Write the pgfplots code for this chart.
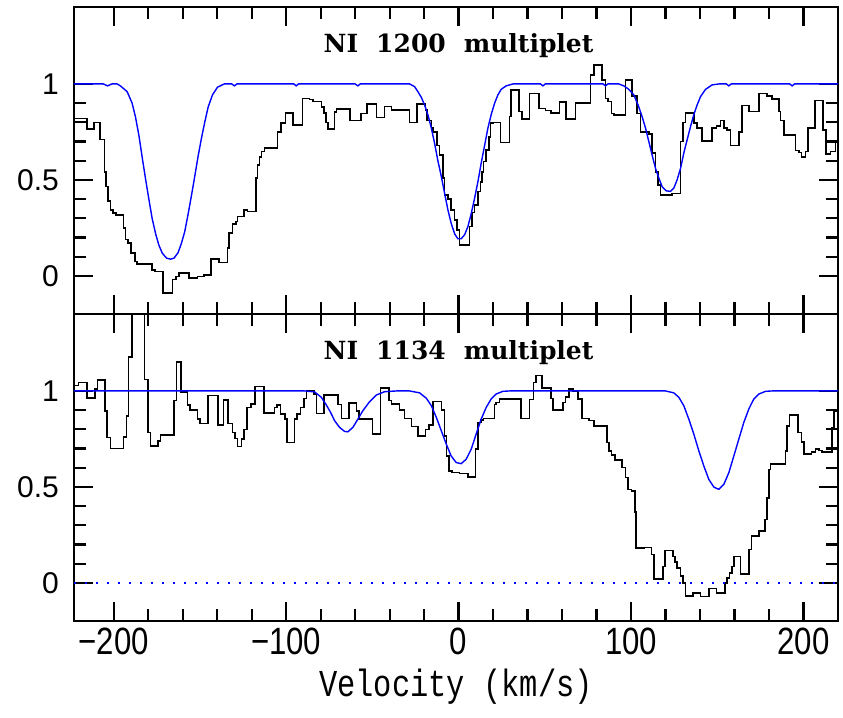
\documentclass[border=0pt]{standalone}
\usepackage{fontspec}
\usepackage{pgfplots}
\pgfplotsset{compat=1.18}
\setmainfont{Liberation Sans}
\newfontfamily\xtickfont[FakeStretch=0.82]{Liberation Sans}
\newfontfamily\ytickfont{Liberation Sans}
\newfontfamily\labfont[FakeStretch=0.8]{Liberation Mono}
\newfontfamily\titfont{DejaVu Serif}

\pgfplotsset{panel/.style={
  scale only axis, width=382pt, height=153.5pt,
  xmin=-223, xmax=220, ymin=-0.2, ymax=1.4,
  xtick={-200,-100,0,100,200}, minor x tick num=4,
  ytick={0,0.5,1}, yticklabels={0,0.5,1}, minor y tick num=4,
  tick align=inside, xtick pos=both, ytick pos=both,
  yticklabel pos=left,
  major tick length=9.5pt, minor tick length=6pt,
  tick style={black, line width=1.1pt},
  axis line style={line width=1.3pt},
  yticklabel style={font=\fontsize{15}{15}\selectfont\ytickfont, xshift=-4pt},
  xticklabel style={font=\fontsize{19}{19}\selectfont\xtickfont},
  xlabel style={font=\fontsize{19}{19}\selectfont\labfont},
}}

\begin{document}
\begin{tikzpicture}
\path[use as bounding box] (-37pt,3.6pt) rectangle (384.5pt,-355pt);

\begin{axis}[panel, name=top, at={(0,0)}, anchor=north west, xticklabels={}]
\addplot[black, line width=0.8pt, const plot] coordinates {
(-223.3,0.82) (-215.5,0.764) (-211.3,0.80) (-207.8,0.71) (-205.4,0.54) (-204.5,0.465)
(-203.2,0.39) (-201.8,0.344) (-200.5,0.326) (-198.5,0.318) (-194.2,0.248) (-193.2,0.19)
(-191.8,0.17) (-189.8,0.118) (-187.8,0.075) (-186.3,0.0625) (-177.7,0.031) (-176.2,0.022)
(-171.3,-0.09) (-166.0,-0.02) (-164.0,-0.003) (-162.1,0.014) (-156.3,-0.012) (-151.5,-0.003)
(-147.6,0.005) (-143.7,0.089) (-138.8,0.069) (-134.0,0.144) (-133.0,0.222) (-131.1,0.27)
(-129.1,0.283) (-128.2,0.309) (-124.3,0.344) (-122.3,0.335) (-117.5,0.509) (-116.5,0.578)
(-115.5,0.62) (-114.3,0.648) (-112.5,0.665) (-104.9,0.75) (-102.9,0.795) (-100.4,0.85)
(-96.1,0.786) (-90.6,0.925) (-86.4,0.918) (-84.5,0.908) (-79.6,0.88) (-78.2,0.85)
(-76.8,0.80) (-75.7,0.764) (-71.9,0.855) (-70.9,0.868) (-63.0,0.81) (-56.5,0.847)
(-53.1,0.894) (-47.7,0.825) (-42.9,0.882) (-39.0,0.865) (-28.4,0.80) (-24.2,0.894)
(-19.1,0.865) (-18.2,0.81) (-15.8,0.77) (-14.9,0.75) (-12.6,0.68) (-11.0,0.63)
(-9.1,0.51) (-8.1,0.42) (-6.2,0.40) (-4.3,0.344) (-2.3,0.29) (-1.0,0.24) (0.6,0.161)
(6.4,0.257) (7.9,0.33) (9.3,0.37) (11.2,0.44) (12.6,0.49) (13.7,0.54) (14.5,0.595)
(16.0,0.656) (17.6,0.725) (18.4,0.795) (19.9,0.80) (24.2,0.694) (29.6,0.83) (30.5,0.969)
(35.0,0.856) (36.9,0.816) (41.2,0.95) (46.6,0.873) (50.4,0.861) (53.7,0.85) (58.6,0.905)
(62.4,0.816) (67.8,0.90) (76.5,1.047) (78.4,1.10) (83.3,1.02) (85.2,0.925) (86.7,0.908)
(88.7,0.847) (90.0,0.838) (96.8,1.02) (100.7,0.9375) (103.6,0.847) (105.5,0.75)
(110.3,0.74) (112.2,0.64) (114.2,0.54) (115.7,0.474) (117.1,0.42) (123.8,0.43)
(128.7,0.70) (130.0,0.80) (131.6,0.85) (136.4,0.795) (138.3,0.77) (141.2,0.703)
(147.0,0.77) (149.5,0.78) (151.9,0.81) (153.8,0.77) (155.7,0.76) (157.7,0.68)
(162.5,0.75) (164.4,0.887) (168.3,0.856) (174.1,0.95) (178.9,0.9375) (181.8,0.92)
(185.7,0.856) (186.6,0.81) (188.6,0.734) (195.3,0.653) (197.3,0.643) (198.8,0.62)
(201.1,0.648) (202.7,0.77) (206.5,0.913) (211.2,0.76) (213.1,0.635) (215.6,0.648)
(218.5,0.70) (220.5,0.70)
};
\addplot[blue, line width=0.7pt] coordinates {
(-223,1.0) (-206,1.0) (-203.5,0.99) (-201,1.0) (-198,1.0) (-196.1,0.99) (-192.2,0.96)
(-189.3,0.90) (-187.4,0.83) (-185.4,0.734) (-183.5,0.62) (-181.6,0.51) (-179.6,0.40)
(-177.7,0.30) (-175.7,0.22) (-173.8,0.16) (-171.8,0.118) (-169.3,0.092) (-167,0.087)
(-165,0.092) (-162.7,0.12) (-160.8,0.167) (-158.8,0.23) (-156.9,0.318) (-155,0.413)
(-153,0.517) (-151.1,0.62) (-149.1,0.717) (-147.2,0.80) (-145.2,0.88) (-142.7,0.943)
(-139.8,0.983) (-135.9,1.0) (-131.5,1.0) (-130,0.99) (-128.5,1.0) (-95.5,1.0) (-94.2,0.99)
(-92.8,1.0) (-60,1.0) (-58.4,0.99) (-57,1.0) (-28.4,1.0) (-25.5,0.986) (-23.6,0.96)
(-21.6,0.93) (-19.7,0.89) (-17.8,0.84) (-15.8,0.77) (-13.9,0.69) (-12,0.60) (-10,0.517)
(-8.1,0.43) (-6.2,0.344) (-4.3,0.274) (-2.3,0.219) (-0.4,0.193) (1.5,0.193) (3.5,0.214)
(5.4,0.257) (7.3,0.323) (9.3,0.405) (11.2,0.49) (13.1,0.587) (15.1,0.68) (17,0.77)
(18.9,0.84) (20.9,0.90) (22.8,0.943) (24.7,0.972) (27.6,0.99) (31.5,1.0) (47.5,1.0)
(48.9,0.99) (50.3,1.0) (83.8,1.0) (85.2,0.99) (86.6,1.0) (92.9,1.0) (95.8,0.99)
(98.7,0.972) (101.6,0.943) (104.1,0.89) (106.4,0.83) (108.4,0.77) (110.3,0.70)
(112.2,0.63) (114.2,0.56) (116.1,0.51) (118,0.465) (120.4,0.443) (122.9,0.44)
(124.8,0.457) (126.7,0.50) (128.7,0.56) (130.6,0.64) (132.5,0.708) (134.5,0.778)
(136.4,0.84) (138.3,0.89) (140.3,0.934) (143.2,0.972) (147,0.995) (150.9,1.0)
(155.3,1.0) (156.7,0.99) (158.1,1.0) (192,1.0) (193.4,0.99) (194.8,1.0) (220,1.0)
};
\node[font=\fontsize{12.5}{12.5}\selectfont\titfont\bfseries] at (axis cs:0,1.2)
  {NI\hspace{9pt}1200\hspace{9pt}multiplet};
\end{axis}

\begin{axis}[panel, name=bot, at={(top.south west)}, anchor=north west,
  xticklabels={−200,−100,0,100,200}, xlabel={Velocity (km/s)}]
\addplot[black, line width=0.8pt, const plot] coordinates {
(-223.3,1.028) (-220.4,1.045) (-215.5,0.962) (-210.7,1.01) (-209.3,1.058) (-204.9,0.897)
(-203.9,0.757) (-201.9,0.70) (-194.2,0.76) (-192.6,0.87) (-191.3,1.178) (-189.3,1.8)
(-182.1,1.06) (-180.2,0.784) (-178.6,0.714) (-174.4,0.74) (-172.8,0.77) (-165.0,0.95)
(-163.5,1.15) (-160.8,0.993) (-157.3,0.927) (-155.7,0.90) (-151.5,0.853) (-149.9,0.83)
(-145.2,0.976) (-139.4,0.822) (-136.3,0.953) (-133.6,0.83) (-131.1,0.784) (-129.5,0.752)
(-128.2,0.71) (-125.8,0.749) (-124.3,0.80) (-122.7,0.914) (-120.4,0.932) (-118.1,1.024)
(-113.0,0.885) (-106.8,0.914) (-105.2,0.927) (-103.3,0.88) (-100.6,0.853) (-99.4,0.731)
(-95.1,0.853) (-93.6,0.88) (-91.7,0.914) (-89.7,0.96) (-88.3,1.0) (-83.9,0.983)
(-82.5,0.883) (-78.0,0.98) (-70.0,0.93) (-68.0,0.857) (-63.6,0.937) (-59.3,0.897)
(-57.8,0.853) (-50.0,0.775) (-45.2,1.014) (-40.4,0.95) (-39.0,0.932) (-34.2,0.90)
(-31.3,0.857) (-27.4,0.815) (-23.6,0.766) (-19.1,0.80) (-17.2,0.822) (-14.9,0.944)
(-10.0,0.90) (-8.1,0.766) (-7.1,0.66) (-5.6,0.583) (-3.7,0.574) (0.6,0.569) (5.4,0.553)
(9.9,0.696) (11.2,0.836) (13.1,0.85) (14.5,0.857) (20.9,0.93) (21.8,0.94) (23.8,0.958)
(36.3,0.857) (41.2,0.955) (43.5,1.045) (45.0,1.08) (48.5,1.014) (53.7,0.96) (54.7,0.90)
(60.5,0.94) (62.0,0.97) (64.0,1.01) (66.3,1.0) (69.2,0.958) (71.7,0.857) (75.5,0.845)
(78.4,0.818) (86.2,0.731) (87.1,0.688) (88.7,0.665) (90.6,0.64) (94.9,0.60) (96.8,0.548)
(98.3,0.487) (100.3,0.478) (102.2,0.368) (103.0,0.18) (107.4,0.185) (111.9,0.147)
(113.2,0.019) (118.4,0.086) (119.6,0.168) (124.2,0.138) (125.4,0.11) (126.7,0.077)
(128.7,0.037) (130.0,0.0) (131.6,-0.068) (135.8,-0.054) (140.3,-0.072) (145.1,-0.03)
(149.5,-0.054) (154.4,0.0) (155.7,0.024) (157.1,0.05) (158.6,0.086) (159.6,0.138)
(163.5,0.047) (168.3,0.173) (169.8,0.243) (174.1,0.269) (177.6,0.33) (178.9,0.443)
(179.9,0.59) (180.8,0.618) (189.5,0.688) (190.5,0.818) (191.9,0.876) (196.9,0.784)
(198.8,0.735) (200.2,0.67) (204.6,0.682) (207.0,0.696) (208.9,0.69) (210.8,0.682)
(216.6,0.81) (217.6,0.897) (220.5,0.897)
};
\addplot[blue, line width=0.7pt] coordinates {
(-223,1.0) (-89.3,1.0) (-83.5,0.995) (-79.6,0.967) (-76.7,0.927) (-74.2,0.888)
(-71.9,0.845) (-69,0.81) (-66.1,0.789) (-64.2,0.787) (-61.3,0.81) (-58.4,0.853)
(-55.5,0.897) (-51.6,0.944) (-47.7,0.979) (-42.9,0.996) (-36.1,1.0) (-28.4,1.0)
(-22.6,0.99) (-18.7,0.962) (-15.8,0.923) (-12.9,0.862) (-10,0.792) (-7.1,0.722)
(-4.3,0.661) (-1.4,0.627) (1.5,0.621) (4.4,0.644) (7.3,0.696) (10.2,0.775) (13.1,0.853)
(16,0.914) (18.9,0.958) (21.8,0.984) (25.7,0.998) (29.6,1.0) (120,1.0) (124.8,0.99)
(127.7,0.967) (130.6,0.923) (133.5,0.853) (136.4,0.775) (139.3,0.688) (142.2,0.609)
(145.1,0.539) (148,0.499) (150.9,0.487) (153.8,0.513) (156.7,0.574) (159.6,0.661)
(162.5,0.749) (165.4,0.836) (168.3,0.906) (171.2,0.958) (174.1,0.984) (178,0.998)
(181.8,1.0) (220,1.0)
};
\addplot[blue, line width=0.9pt, dash pattern=on 1pt off 4.5pt] coordinates {(-223,0) (220,0)};
\node[font=\fontsize{12.5}{12.5}\selectfont\titfont\bfseries] at (axis cs:0,1.2)
  {NI\hspace{9pt}1134\hspace{9pt}multiplet};
\end{axis}
\end{tikzpicture}
\end{document}
